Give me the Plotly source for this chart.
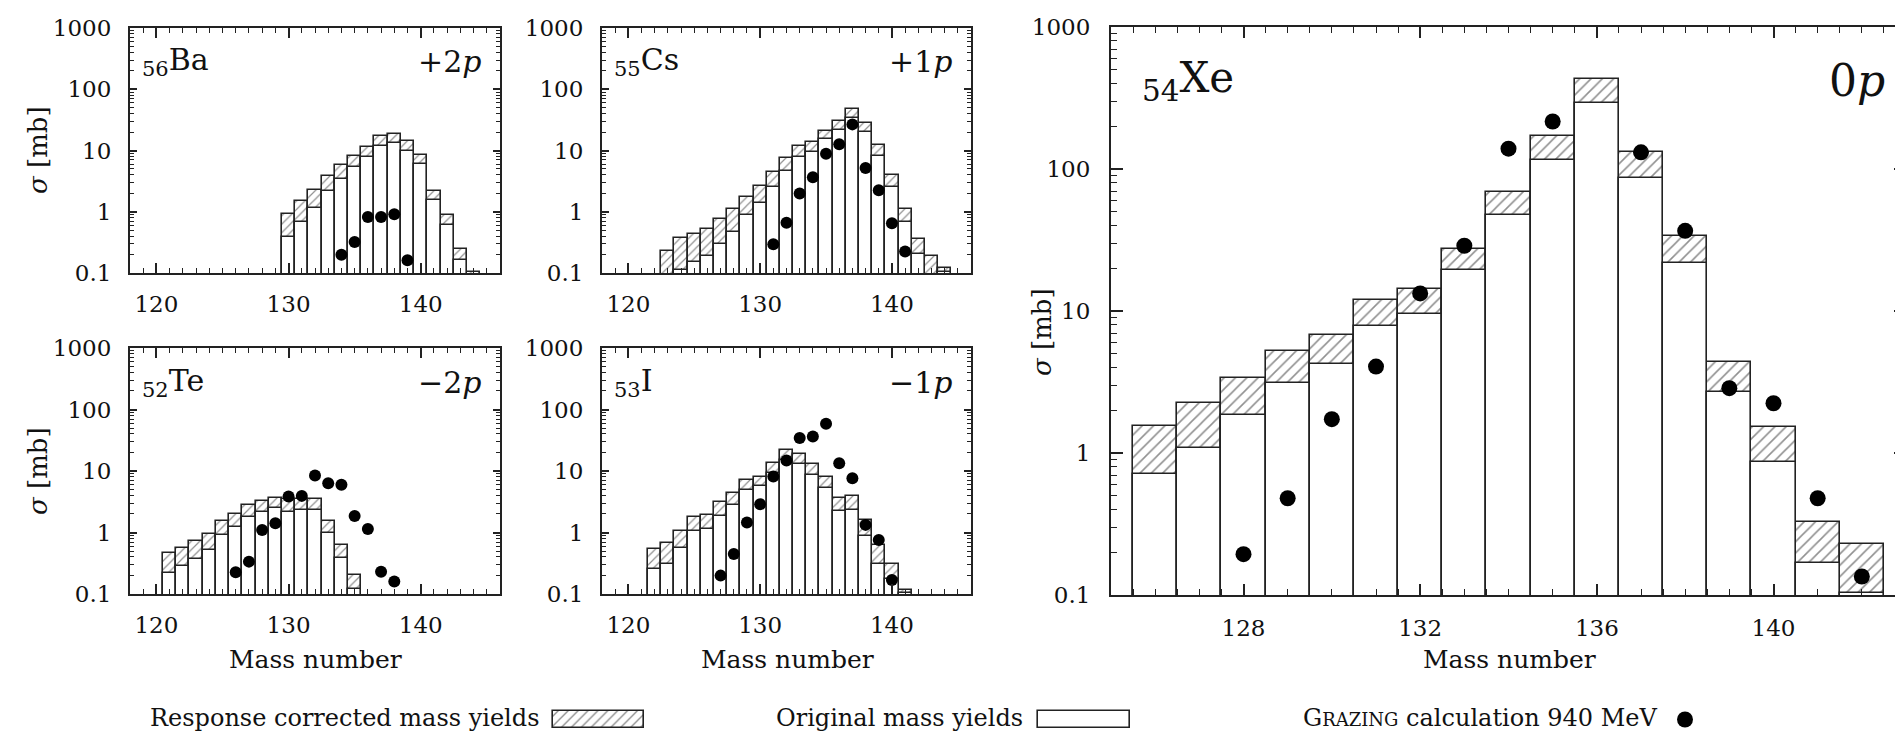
import plotly.graph_objects as go

W, H = 1903, 734

# ---------------- data ----------------
ba_mass = list(range(130, 145))
ba_corr = [0.93, 1.52, 2.26, 3.88, 5.73, 8.03, 11.6, 17.3, 18.6, 14.3, 8.45, 2.18, 0.885, 0.249, 0.104]
ba_orig = [0.387, 0.69, 1.15, 2.21, 3.38, 5.31, 7.83, 12.0, 13.1, 9.93, 6.03, 1.54, 0.615, 0.161, None]
ba_calc_mass = [134, 135, 136, 137, 138, 139]
ba_calc = [0.199, 0.32, 0.82, 0.82, 0.908, 0.161]

cs_mass = list(range(123, 145))
cs_corr = [0.227, 0.379, 0.435, 0.524, 0.77, 1.09, 1.77, 2.67, 4.5, 7.6, 11.9, 14.0, 21.1, 30.3, 48, 28.4,
           12.4, 4.03, 1.12, 0.365, 0.191, 0.12]
cs_orig = [None, 0.113, 0.149, 0.191, 0.295, 0.468, 0.87, 1.40, 2.54, 4.68, 7.8, 9.6, 15.3, 21.6, 34.3, 19.8,
           8.2, 2.54, 0.69, 0.201, None, 0.105]
cs_calc_mass = list(range(131, 142))
cs_calc = [0.295, 0.664, 1.98, 3.65, 8.83, 12.7, 26.7, 5.17, 2.25, 0.647, 0.224]

te_mass = list(range(121, 136))
te_corr = [0.471, 0.568, 0.739, 0.937, 1.55, 1.98, 2.78, 3.27, 3.66, 3.56, 3.52, 3.52, 1.56, 0.628, 0.204]
te_orig = [0.222, 0.286, 0.372, 0.514, 0.914, 1.25, 1.80, 2.14, 2.48, 2.19, 2.30, 2.33, 0.973, 0.386, 0.12]
te_calc_mass = list(range(126, 139))
te_calc = [0.225, 0.336, 1.10, 1.41, 3.84, 3.94, 8.45, 6.34, 5.96, 1.86, 1.14, 0.231, 0.159]

i_mass = list(range(122, 142))
i_corr = [0.541, 0.668, 1.04, 1.82, 1.91, 3.11, 4.36, 7.18, 8.13, 13.4, 21.8, 19.0, 13.1, 8.03, 3.61, 3.89,
          1.58, 0.628, 0.308, 0.115]
i_orig = [0.252, 0.308, 0.555, 1.06, 1.14, 1.86, 2.81, 4.93, 5.6, 9.2, 15.2, 12.9, 8.67, 5.25, 2.27, 2.30,
          0.88, 0.304, 0.175, 0.105]
i_calc_mass = list(range(127, 141))
i_calc = [0.199, 0.448, 1.45, 2.88, 8.13, 14.8, 34.3, 36.5, 58.6, 13.4, 7.64, 1.33, 0.757, 0.169]

xe_mass = list(range(126, 143))
xe_corr = [1.56, 2.26, 3.36, 5.26, 6.75, 11.9, 14.3, 27.3, 68.7, 170, 430, 131, 33.8, 4.40, 1.53, 0.325, 0.229]
xe_orig = [0.716, 1.09, 1.85, 3.11, 4.22, 7.78, 9.54, 19.3, 47.5, 116, 291, 86.3, 21.7, 2.71, 0.869, 0.167, 0.104]
xe_calc_mass = [128, 129, 130, 131, 132, 133, 134, 135, 137, 138, 139, 140, 141, 142]
xe_calc = [0.194, 0.48, 1.73, 4.06, 13.3, 28.8, 139, 216, 131, 36.7, 2.86, 2.24, 0.48, 0.135]

y_tickvals = [0.1, 1, 10, 100, 1000]
y_ticktext = ["0.1", "1", "10", "100", "1000"]

FONT = "DejaVu Serif"
INK = "#222222"
HATCH = dict(shape="/", fgcolor="#222222", bgcolor="white", solidity=0.2)


def px(x):
    return x / W


def py(y):
    return 1 - y / H


fig = go.Figure()

panels = [
    # (suffix, masses, corr, orig, calc_mass, calc, x-domain px, y-domain px(top,bottom), big)
    ("", ba_mass, ba_corr, ba_orig, ba_calc_mass, ba_calc, (122, 492), (20, 265), False),
    ("2", cs_mass, cs_corr, cs_orig, cs_calc_mass, cs_calc, (594, 963), (20, 265), False),
    ("3", te_mass, te_corr, te_orig, te_calc_mass, te_calc, (122, 492), (340, 586), False),
    ("4", i_mass, i_corr, i_orig, i_calc_mass, i_calc, (594, 963), (340, 586), False),
    ("5", xe_mass, xe_corr, xe_orig, xe_calc_mass, xe_calc, (1103, 1898), (19, 587), True),
]

minor_log = [m * 10 ** e for e in range(-1, 3) for m in range(2, 10)]

for suf, mass, corr, orig, cmass, calc, xd, yd, big in panels:
    xa, ya = "x" + suf, "y" + suf
    fig.add_trace(go.Bar(
        x=mass, y=corr, width=1, xaxis=xa, yaxis=ya, showlegend=False,
        marker=dict(color="white", line=dict(color=INK, width=1.6),
                    pattern=dict(HATCH, size=8 if big else 6)),
    ))
    fig.add_trace(go.Bar(
        x=mass, y=orig, width=1, xaxis=xa, yaxis=ya, showlegend=False,
        marker=dict(color="white", line=dict(color=INK, width=1.6)),
    ))
    fig.add_trace(go.Scatter(
        x=cmass, y=calc, mode="markers", xaxis=xa, yaxis=ya, showlegend=False,
        marker=dict(color="black", size=16 if big else 12, line=dict(width=0)),
    ))

    common = dict(showline=True, linecolor=INK, linewidth=2, mirror="allticks", showgrid=False,
                  zeroline=False, ticks="inside", tickcolor=INK, tickwidth=1.5,
                  tickfont=dict(family=FONT, size=23, color="#111"), automargin=False)
    xaxis = dict(common, domain=[px(xd[0]), px(xd[1])], anchor=ya, fixedrange=True)
    yaxis = dict(common, domain=[py(yd[1]), py(yd[0])], anchor=xa, type="log", range=[-1, 3],
                 tickmode="array", tickvals=y_tickvals, ticktext=y_ticktext,
                 ticklabelstandoff=14 if big else 12)
    if big:
        xaxis.update(range=[125, 143], tickmode="linear", tick0=128, dtick=4, ticklen=11,
                     ticklabelstandoff=11,
                     minor=dict(ticks="inside", ticklen=6, tickmode="linear", tick0=125, dtick=0.5,
                                tickcolor=INK, tickwidth=1.2, showgrid=False))
        yaxis.update(ticklen=12, minor=dict(ticks="inside", ticklen=6, tickmode="array", tickvals=minor_log,
                                            tickcolor=INK, tickwidth=1.2, showgrid=False))
    else:
        xaxis.update(range=[118, 146], tickmode="linear", tick0=120, dtick=10, ticklen=10,
                     ticklabelstandoff=9,
                     minor=dict(ticks="inside", ticklen=5, tickmode="linear", tick0=118, dtick=1,
                                tickcolor=INK, tickwidth=1.2, showgrid=False))
        yaxis.update(ticklen=7, minor=dict(ticks="inside", ticklen=4, tickmode="array", tickvals=minor_log,
                                           tickcolor=INK, tickwidth=1.0, showgrid=False))
    fig.update_layout({"xaxis" + suf: xaxis, "yaxis" + suf: yaxis})

# ---------------- legend (small hidden subplots) ----------------
leg_y = (701, 722)
hidden = dict(visible=False, fixedrange=True)
fig.add_trace(go.Bar(x=[0], y=[1], width=1, xaxis="x6", yaxis="y6", showlegend=False,
                     marker=dict(color="white", line=dict(color=INK, width=1.6),
                                 pattern=dict(HATCH, size=7))))
fig.add_trace(go.Bar(x=[0], y=[1], width=1, xaxis="x7", yaxis="y7", showlegend=False,
                     marker=dict(color="white", line=dict(color=INK, width=1.6))))
fig.add_trace(go.Scatter(x=[0], y=[0.5], mode="markers", xaxis="x8", yaxis="y8", showlegend=False,
                         marker=dict(color="black", size=16)))
fig.update_layout(
    xaxis6=dict(hidden, domain=[px(542), px(639)], range=[-0.53, 0.53], anchor="y6"),
    yaxis6=dict(hidden, domain=[py(leg_y[1]), py(leg_y[0])], range=[-0.1, 1.1], anchor="x6"),
    xaxis7=dict(hidden, domain=[px(1027), px(1125)], range=[-0.53, 0.53], anchor="y7"),
    yaxis7=dict(hidden, domain=[py(leg_y[1]), py(leg_y[0])], range=[-0.1, 1.1], anchor="x7"),
    xaxis8=dict(hidden, domain=[px(1662), px(1692)], range=[-0.5, 0.5], anchor="y8"),
    yaxis8=dict(hidden, domain=[py(leg_y[1]), py(leg_y[0])], range=[0, 1], anchor="x8"),
)

ann = []


def text(x, y, s, size, xanchor="center", angle=0):
    ann.append(dict(x=px(x), y=py(y), xref="paper", yref="paper", text=s, showarrow=False,
                    xanchor=xanchor, yanchor="middle", textangle=angle,
                    font=dict(family=FONT, size=size, color="#111")))


# element / channel labels
text(132, 54, "<sub>56</sub>Ba", 30, "left")
text(475, 54, "+2<i>p</i>", 30, "right")
text(604, 54, "<sub>55</sub>Cs", 30, "left")
text(946, 54, "+1<i>p</i>", 30, "right")
text(132, 374, "<sub>52</sub>Te", 30, "left")
text(475, 374, "\u22122<i>p</i>", 30, "right")
text(604, 374, "<sub>53</sub>I", 30, "left")
text(946, 374, "\u22121<i>p</i>", 30, "right")
text(1132, 72, "<sub>54</sub>Xe", 42, "left")
text(1879, 72, "0<i>p</i>", 44, "right")

# axis titles
text(30, 142, "<i>σ</i> [mb]", 26, angle=-90)
text(30, 463, "<i>σ</i> [mb]", 26, angle=-90)
text(1034, 324, "<i>σ</i> [mb]", 26, angle=-90)
text(307, 651, "Mass number", 25)
text(779, 651, "Mass number", 25)
text(1501, 651, "Mass number", 25)

# legend texts
text(533, 710, "Response corrected mass yields", 24, "right")
text(1017, 710, "Original mass yields", 24, "right")
text(1651, 710, "G<span style='font-size:18px'>RAZING</span> calculation 940 MeV", 24, "right")

fig.update_layout(
    width=W, height=H, margin=dict(l=0, r=0, t=0, b=0),
    paper_bgcolor="white", plot_bgcolor="white",
    barmode="overlay", bargap=0, showlegend=False,
    annotations=ann,
    font=dict(family=FONT, color="#111"),
)

fig.write_html("out.html")
